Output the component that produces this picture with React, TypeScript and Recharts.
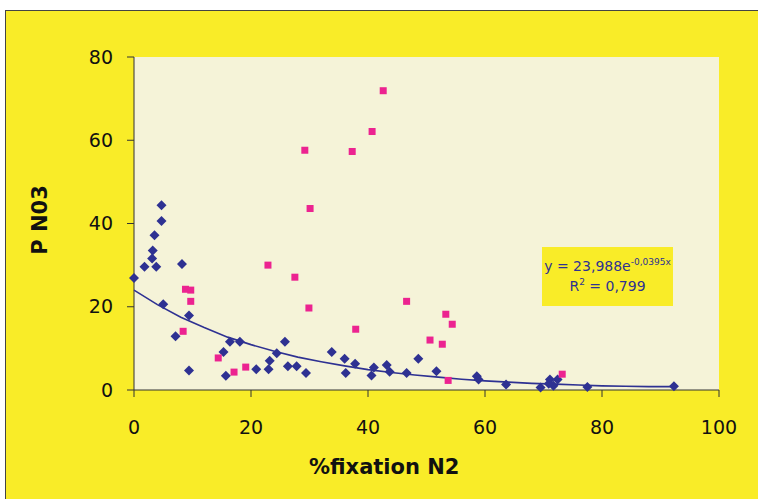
import { ScatterChart, Scatter, XAxis, YAxis, CartesianGrid } from 'recharts';

const xTicks = [0, 20, 40, 60, 80, 100];
const yTicks = [0, 20, 40, 60, 80];

// blue diamonds: [%fixation, P N03]
const blueX = [0, 1.8, 3.8, 4.7, 4.7, 3.5, 3.2, 3.1, 8.2, 5.0, 9.4, 7.1, 9.4, 16.4, 18.1, 15.3, 15.7, 25.8, 20.9, 23.0, 23.2, 24.4, 26.3, 27.8, 29.4, 33.8, 36.0, 36.2, 37.8, 40.6, 41.0, 43.2, 43.7, 46.6, 48.6, 51.7, 58.6, 58.9, 63.6, 69.5, 71.1, 71.7, 72.4, 70.9, 77.5, 92.3];
const blueY = [26.9, 29.6, 29.6, 44.4, 40.6, 37.2, 33.5, 31.6, 30.3, 20.6, 17.9, 12.9, 4.7, 11.6, 11.6, 9.1, 3.4, 11.6, 5.0, 5.0, 7.0, 8.8, 5.7, 5.7, 4.1, 9.1, 7.5, 4.1, 6.3, 3.5, 5.4, 6.0, 4.4, 4.1, 7.5, 4.5, 3.3, 2.5, 1.3, 0.6, 2.5, 1.0, 2.5, 1.5, 0.7, 0.9];

// pink squares
const pinkX = [8.8, 9.7, 9.7, 8.4, 14.4, 17.1, 19.1, 42.6, 40.7, 29.2, 37.3, 30.1, 22.9, 27.5, 29.9, 37.9, 46.6, 53.3, 54.4, 50.6, 52.7, 53.7, 73.2];
const pinkY = [24.2, 24.0, 21.3, 14.1, 7.7, 4.3, 5.5, 71.9, 62.1, 57.6, 57.3, 43.6, 30.0, 27.1, 19.7, 14.6, 21.3, 18.2, 15.8, 12.0, 11.0, 2.3, 3.8];

// trend line
const trendX = [0, 4, 8, 12, 16, 20, 24, 28, 32, 36, 40, 44, 48, 52, 56, 60, 64, 68, 72, 76, 80, 84, 88, 92];
const trendY = [24.0, 20.5, 17.5, 15.0, 12.7, 10.9, 9.3, 7.9, 6.8, 5.8, 4.9, 4.2, 3.6, 3.1, 2.6, 2.2, 1.9, 1.6, 1.4, 1.2, 1.0, 0.9, 0.8, 0.8];

const blue = blueX.map((x, i) => ({ x, y: blueY[i] }));
const pink = pinkX.map((x, i) => ({ x, y: pinkY[i] }));
const trend = trendX.map((x, i) => ({ x, y: trendY[i] }));

const NAVY = '#2E3192';
const PINK = '#EC2390';
const FONT = '"DejaVu Sans", sans-serif';

const Diamond = (p: any) => (
  <polygon
    points={`${p.cx},${p.cy - 5} ${p.cx + 5},${p.cy} ${p.cx},${p.cy + 5} ${p.cx - 5},${p.cy}`}
    fill={NAVY}
  />
);
const Square = (p: any) => <rect x={p.cx - 3.5} y={p.cy - 3.5} width={7} height={7} fill={PINK} />;
const NoDot = () => null;

export default function App() {
  return (
    <div style={{ position: 'absolute', left: 0, top: 0, width: 758, height: 499, overflow: 'hidden', background: '#fff' }}>
      <div style={{ position: 'absolute', left: 5, top: 10, width: 800, height: 520, background: '#F9EC28', border: '1.5px solid #444' }} />
      <div style={{ position: 'absolute', left: 0, top: 0 }}>
        <ScatterChart width={758} height={499} margin={{ top: 57, right: 39, bottom: 0, left: 0 }}>
          <CartesianGrid horizontal={false} vertical={false} fill="#F5F3D8" />
          <XAxis
            type="number"
            dataKey="x"
            domain={[0, 100]}
            ticks={xTicks}
            height={109}
            stroke="#333"
            tickSize={7}
            tickMargin={24}
            tick={{ fill: '#111', fontSize: 19, fontFamily: FONT }}
          />
          <YAxis
            type="number"
            dataKey="y"
            domain={[0, 80]}
            ticks={yTicks}
            width={134}
            stroke="#333"
            tickSize={7}
            tickMargin={14}
            tick={{ fill: '#111', fontSize: 19, fontFamily: FONT }}
          />
          <Scatter data={trend} shape={NoDot} line={{ stroke: NAVY, strokeWidth: 1.6 }} isAnimationActive={false} />
          <Scatter data={blue} shape={Diamond} isAnimationActive={false} />
          <Scatter data={pink} shape={Square} isAnimationActive={false} />
        </ScatterChart>
      </div>
      <div style={{ position: 'absolute', left: 309, top: 455, fontFamily: FONT, fontWeight: 'bold', fontSize: 21, color: '#111', whiteSpace: 'nowrap' }}>
        %fixation N2
      </div>
      <div style={{ position: 'absolute', left: 40, top: 220, transform: 'translate(-50%, -50%) rotate(-90deg)', fontFamily: FONT, fontWeight: 'bold', fontSize: 21, color: '#111', whiteSpace: 'nowrap' }}>
        P N03
      </div>
      <div style={{ position: 'absolute', left: 542, top: 247, width: 131, height: 59, background: '#F9EC28', fontFamily: FONT, color: NAVY, textAlign: 'center' }}>
        <div style={{ fontSize: 14, marginTop: 10, whiteSpace: 'nowrap' }}>
          y = 23,988e<sup style={{ fontSize: 9 }}>-0,0395x</sup>
        </div>
        <div style={{ fontSize: 14, marginTop: 3 }}>
          R<sup style={{ fontSize: 9 }}>2</sup> = 0,799
        </div>
      </div>
    </div>
  );
}
